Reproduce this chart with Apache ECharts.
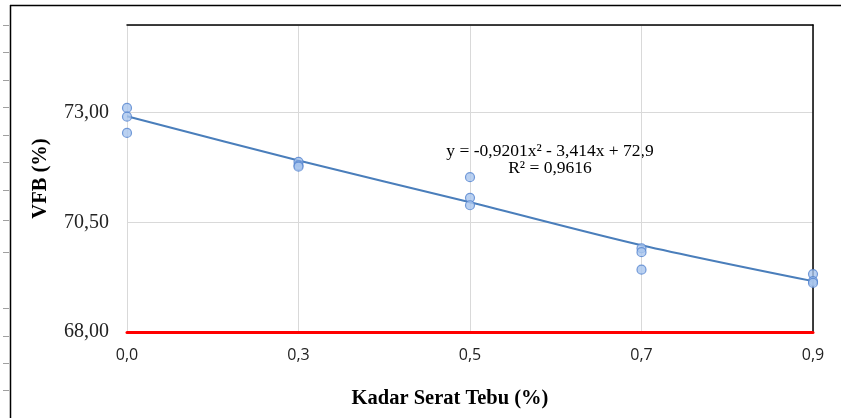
<!DOCTYPE html>
<html>
<head>
<meta charset="utf-8">
<script src="https://cdn.jsdelivr.net/npm/echarts@6/dist/echarts.min.js"></script>
<style>html,body{margin:0;padding:0;background:#fff;}#c{width:841px;height:418px;}</style>
</head>
<body>
<div id="c"></div>
<script>
const categories = ['0,0', '0,3', '0,5', '0,7', '0,9'];
const obs0 = [73.11, 72.91, 72.54];
const obs1 = [71.88, 71.80, 71.77];
const obs2 = [71.53, 71.06, 70.89];
const obs3 = [69.91, 69.82, 69.42];
const obs4 = [69.32, 69.16, 69.12];
const trendValues = [72.92, 71.91, 70.96, 69.98, 69.16];
const yTicks = [68, 70.5, 73];
const equationText = 'y = -0,9201x² - 3,414x + 72,9';
const r2Text = 'R² = 0,9616';
const rulerTicks = [25, 52, 80, 107, 135, 162, 190, 220, 252, 308, 336, 363, 390];

const observations = [obs0, obs1, obs2, obs3, obs4];
const scatterData = [];
observations.forEach((arr, i) => arr.forEach(v => scatterData.push([i, v])));
const trendData = trendValues.map((v, i) => [i, v]);

const chart = echarts.init(document.getElementById('c'));
const graphics = [
  {type: 'line', shape: {x1: 10, y1: 5.5, x2: 841, y2: 5.5}, style: {stroke: '#000', lineWidth: 1.5}},
  {type: 'line', shape: {x1: 10.5, y1: 5, x2: 10.5, y2: 418}, style: {stroke: '#000', lineWidth: 1.5}}
];
rulerTicks.forEach(y => graphics.push({type: 'line', shape: {x1: 3, y1: y + 0.5, x2: 9, y2: y + 0.5}, style: {stroke: '#a0a0a0', lineWidth: 1}}));
graphics.push({type: 'text', x: 550, y: 151, style: {text: equationText, font: '17.5px "Liberation Serif"', fill: '#000', align: 'center', verticalAlign: 'middle'}});
graphics.push({type: 'text', x: 550, y: 168, style: {text: r2Text, font: '17.5px "Liberation Serif"', fill: '#000', align: 'center', verticalAlign: 'middle'}});
graphics.push({type: 'text', x: 450, y: 399, style: {text: 'Kadar Serat Tebu (%)', font: 'bold 20.5px "Liberation Serif"', fill: '#000', align: 'center', verticalAlign: 'middle'}});

chart.setOption({
  animation: false,
  grid: {left: 127, right: 28, top: 25, bottom: 86},
  xAxis: [{
    type: 'value', min: 0, max: 4, interval: 1,
    axisLine: {show: true, onZero: false, lineStyle: {color: '#ff0000', width: 3}},
    axisTick: {show: false},
    splitLine: {show: true, lineStyle: {color: '#d9d9d9', width: 1}},
    axisLabel: {margin: 15, fontFamily: 'Open Sans', fontSize: 16, color: '#222',
      formatter: v => categories[Math.round(v)] || ''}
  }, {
    type: 'value', min: 0, max: 4, position: 'top',
    axisLine: {show: true, onZero: false, lineStyle: {color: '#000', width: 1.5}},
    axisTick: {show: false}, axisLabel: {show: false}, splitLine: {show: false}
  }],
  yAxis: [{
    type: 'value', min: 68, max: 75, interval: 2.5,
    name: 'VFB (%)', nameLocation: 'middle', nameGap: 76, nameRotate: 90,
    nameTextStyle: {fontFamily: 'Liberation Serif', fontWeight: 'bold', fontSize: 20.5, color: '#000'},
    axisLine: {show: false, onZero: false}, axisTick: {show: false},
    splitLine: {show: true, lineStyle: {color: '#d9d9d9', width: 1}},
    axisLabel: {margin: 18, fontFamily: 'Liberation Serif', fontSize: 20, color: '#222', showMaxLabel: false,
      formatter: v => yTicks.includes(v) ? v.toFixed(2).replace('.', ',') : ''}
  }, {
    type: 'value', min: 68, max: 75, position: 'right',
    axisLine: {show: true, onZero: false, lineStyle: {color: '#000', width: 1.5}},
    axisTick: {show: false}, axisLabel: {show: false}, splitLine: {show: false}
  }],
  series: [{
    type: 'line', data: trendData, symbol: 'none', smooth: 0.3,
    lineStyle: {color: '#4a7ebb', width: 2}, z: 2
  }, {
    type: 'scatter', data: scatterData, symbol: 'circle', symbolSize: 9,
    itemStyle: {color: '#a9c5ee', borderColor: '#5584d0', borderWidth: 1.2}, z: 3
  }],
  graphic: graphics
});
</script>
</body>
</html>
